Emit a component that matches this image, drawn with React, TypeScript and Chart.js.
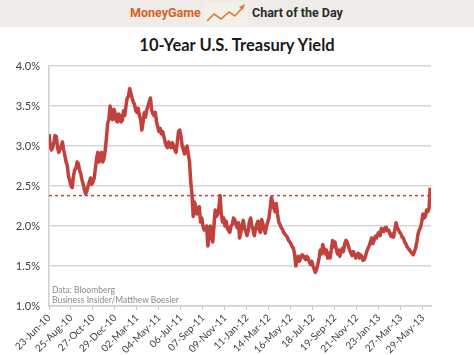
import React, { useEffect, useRef } from "react";
import { Chart, registerables } from "chart.js";

Chart.register(...registerables);

// x tick labels (one every 9 weeks)
const tickLabels = [
  "23-Jun-10", "25-Aug-10", "27-Oct-10", "29-Dec-10", "02-Mar-11", "04-May-11",
  "06-Jul-11", "07-Sep-11", "09-Nov-11", "11-Jan-12", "14-Mar-12", "16-May-12",
  "18-Jul-12", "19-Sep-12", "21-Nov-12", "23-Jan-13", "27-Mar-13", "29-May-13",
];
const weeksPerTick = 9;
const weeksPerPoint = 0.5;
const lastWeek = 156.3;

// twice-weekly 10-year yield (%)
const yieldValues = [
  3.15, 3.0, 2.95, 2.98, 3.05, 3.13, 3.12, 2.98, 2.92, 2.96,
  3.0, 3.05, 2.95, 2.88, 2.8, 2.75, 2.62, 2.57, 2.5, 2.48,
  2.62, 2.7, 2.72, 2.8, 2.78, 2.7, 2.65, 2.58, 2.52, 2.45,
  2.4, 2.44, 2.5, 2.55, 2.6, 2.52, 2.55, 2.6, 2.72, 2.85,
  2.92, 2.8, 2.85, 2.92, 2.8, 2.84, 2.95, 3.1, 3.28, 3.33,
  3.5, 3.35, 3.33, 3.46, 3.42, 3.32, 3.3, 3.4, 3.38, 3.3,
  3.32, 3.44, 3.38, 3.5, 3.6, 3.62, 3.72, 3.66, 3.6, 3.55,
  3.52, 3.44, 3.42, 3.47, 3.38, 3.33, 3.2, 3.3, 3.42, 3.36,
  3.45, 3.5, 3.55, 3.6, 3.45, 3.4, 3.38, 3.42, 3.3, 3.24,
  3.18, 3.22, 3.15, 3.18, 3.12, 3.05, 3.0, 2.98, 3.05, 3.02,
  2.98, 3.04, 3.0, 2.95, 2.92, 3.05, 3.18, 3.2, 3.12, 3.0,
  2.95, 2.9, 2.98, 3.0, 2.9, 2.8, 2.55, 2.4, 2.12, 2.3,
  2.25, 2.15, 2.18, 2.24, 2.05, 2.1, 2.0, 1.95, 1.95, 2.0,
  1.75, 1.85, 2.0, 1.9, 1.8, 2.0, 2.2, 2.12, 2.15, 2.22,
  2.38, 2.15, 2.05, 2.1, 2.0, 2.06, 1.97, 1.94, 1.92, 2.0,
  2.02, 2.1, 2.08, 2.02, 1.98, 2.04, 1.85, 1.92, 2.02, 2.07,
  1.97, 1.93, 1.88, 1.94, 2.05, 2.1, 2.0, 1.95, 1.88, 1.96,
  2.02, 2.06, 1.95, 1.92, 2.08, 2.03, 1.95, 1.91, 2.0, 2.05,
  2.1, 2.22, 2.36, 2.3, 2.22, 2.18, 2.28, 2.15, 2.05, 2.02,
  1.98, 1.96, 1.92, 1.9, 1.88, 1.86, 1.82, 1.8, 1.78, 1.74,
  1.72, 1.65, 1.5, 1.58, 1.62, 1.56, 1.6, 1.64, 1.63, 1.6,
  1.58, 1.62, 1.6, 1.55, 1.52, 1.56, 1.5, 1.46, 1.42, 1.46,
  1.52, 1.6, 1.7, 1.65, 1.77, 1.72, 1.65, 1.7, 1.6, 1.66,
  1.6, 1.7, 1.82, 1.74, 1.8, 1.72, 1.65, 1.7, 1.62, 1.68,
  1.72, 1.68, 1.78, 1.82, 1.8, 1.75, 1.7, 1.66, 1.63, 1.68,
  1.65, 1.6, 1.62, 1.66, 1.6, 1.64, 1.62, 1.57, 1.58, 1.62,
  1.68, 1.72, 1.75, 1.8, 1.85, 1.78, 1.82, 1.87, 1.85, 1.9,
  1.92, 1.88, 1.97, 1.94, 1.93, 1.98, 1.98, 1.94, 1.95, 1.9,
  1.87, 1.9, 1.86, 1.95, 2.04, 1.98, 1.95, 1.92, 1.9, 1.86,
  1.85, 1.8, 1.78, 1.74, 1.72, 1.7, 1.68, 1.66, 1.64, 1.68,
  1.72, 1.8, 1.9, 1.95, 1.98, 2.05, 2.15, 2.1, 2.12, 2.2,
  2.18, 2.22, 2.48,
];

const referenceLevel = 2.38;
const yMin = 1.0;
const yMax = 4.0;
const yStep = 0.5;

export default function App() {
  const canvasRef = useRef<HTMLCanvasElement | null>(null);

  useEffect(() => {
    if (!canvasRef.current) return;
    const chart = new Chart(canvasRef.current, {
      type: "line",
      data: {
        datasets: [
          {
            data: [
              { x: 0, y: referenceLevel },
              { x: lastWeek, y: referenceLevel },
            ],
            borderColor: "#dc3b32",
            borderWidth: 1.5,
            borderDash: [3, 3],
            pointRadius: 0,
            order: 0,
          },
          {
            data: yieldValues.map((v, i) => ({ x: i * weeksPerPoint, y: v })),
            borderColor: "#c2413c",
            borderWidth: 3.5,
            pointRadius: 0,
            tension: 0,
            borderJoinStyle: "round",
            order: 1,
          },
        ],
      },
      options: {
        animation: false,
        responsive: false,
        devicePixelRatio: 1,
        layout: { padding: { top: 66, right: 43, bottom: 0, left: 0 } },
        plugins: {
          legend: { display: false },
          tooltip: { enabled: false },
          title: { display: false },
        },
        scales: {
          x: {
            type: "linear",
            min: 0,
            max: lastWeek,
            afterBuildTicks: (s: any) => {
              s.ticks = tickLabels.map((_, i) => ({ value: i * weeksPerTick }));
            },
            afterFit: (s: any) => {
              s.height = 49;
            },
            ticks: {
              autoSkip: false,
              minRotation: 45,
              maxRotation: 45,
              padding: 2,
              color: "#404040",
              font: { family: "Lato", size: 10 },
              callback: (_v: any, i: number) => tickLabels[i],
            },
            grid: {
              drawOnChartArea: false,
              drawTicks: true,
              tickLength: 4,
              color: "#c8c8c8",
              lineWidth: 1,
            },
            border: { display: true, color: "#d0d0d0", width: 1.5 },
          },
          y: {
            min: yMin,
            max: yMax,
            afterFit: (s: any) => {
              s.width = 49;
            },
            ticks: {
              stepSize: yStep,
              padding: 9,
              color: "#404040",
              font: { family: "Lato", size: 11 },
              callback: (v: any) => Number(v).toFixed(1) + "%",
            },
            grid: { color: "#d6d6d6", lineWidth: 1.6, drawTicks: false },
            border: { display: true, color: "#d0d0d0", width: 1.5 },
          },
        },
      },
    });
    return () => chart.destroy();
  }, []);

  return (
    <div
      style={{
        position: "fixed",
        left: 0,
        top: 0,
        width: 474,
        height: 355,
        background: "#ffffff",
        overflow: "hidden",
      }}
    >
      <div
        style={{
          position: "absolute",
          left: 0,
          top: 0,
          width: 474,
          height: 27,
          background: "#eeebe8",
        }}
      />
      <div
        style={{
          position: "absolute",
          left: 130,
          top: 5,
          fontFamily: "Roboto, sans-serif",
          fontWeight: 700,
          fontSize: 12.5,
          color: "#d8631f",
          lineHeight: "16px",
        }}
      >
        MoneyGame
      </div>
      <svg
        style={{ position: "absolute", left: 204, top: 2 }}
        width={44}
        height={24}
        viewBox="0 0 44 24"
      >
        <rect x={0} y={0} width={44} height={24} fill="#f3efe9" />
        <polyline
          points="3,19 10,12 17,17 25,10 31,14 39,5"
          fill="none"
          stroke="#e07a3c"
          strokeWidth={1.6}
        />
        <polygon points="41,2 35,5 39,8" fill="#e07a3c" />
      </svg>
      <div
        style={{
          position: "absolute",
          left: 252,
          top: 5,
          fontFamily: "Roboto, sans-serif",
          fontWeight: 700,
          fontSize: 12.5,
          color: "#2b2b2b",
          lineHeight: "16px",
        }}
      >
        Chart of the Day
      </div>
      <div
        style={{
          position: "absolute",
          left: 0,
          top: 35,
          width: 474,
          textAlign: "center",
          fontFamily: "Lato, sans-serif",
          fontWeight: 700,
          fontSize: 16.5,
          color: "#1a1a1a",
          lineHeight: "20px",
        }}
      >
        10-Year U.S. Treasury Yield
      </div>
      <canvas
        ref={canvasRef}
        width={474}
        height={355}
        style={{ position: "absolute", left: 0, top: 0, width: 474, height: 355 }}
      />
      <div
        style={{
          position: "absolute",
          left: 52,
          top: 285,
          fontFamily: "Lato, sans-serif",
          fontSize: 8.5,
          color: "#8a8a8a",
          lineHeight: "10px",
        }}
      >
        <div>Data: Bloomberg</div>
        <div>Business Insider/Matthew Boesler</div>
      </div>
    </div>
  );
}
